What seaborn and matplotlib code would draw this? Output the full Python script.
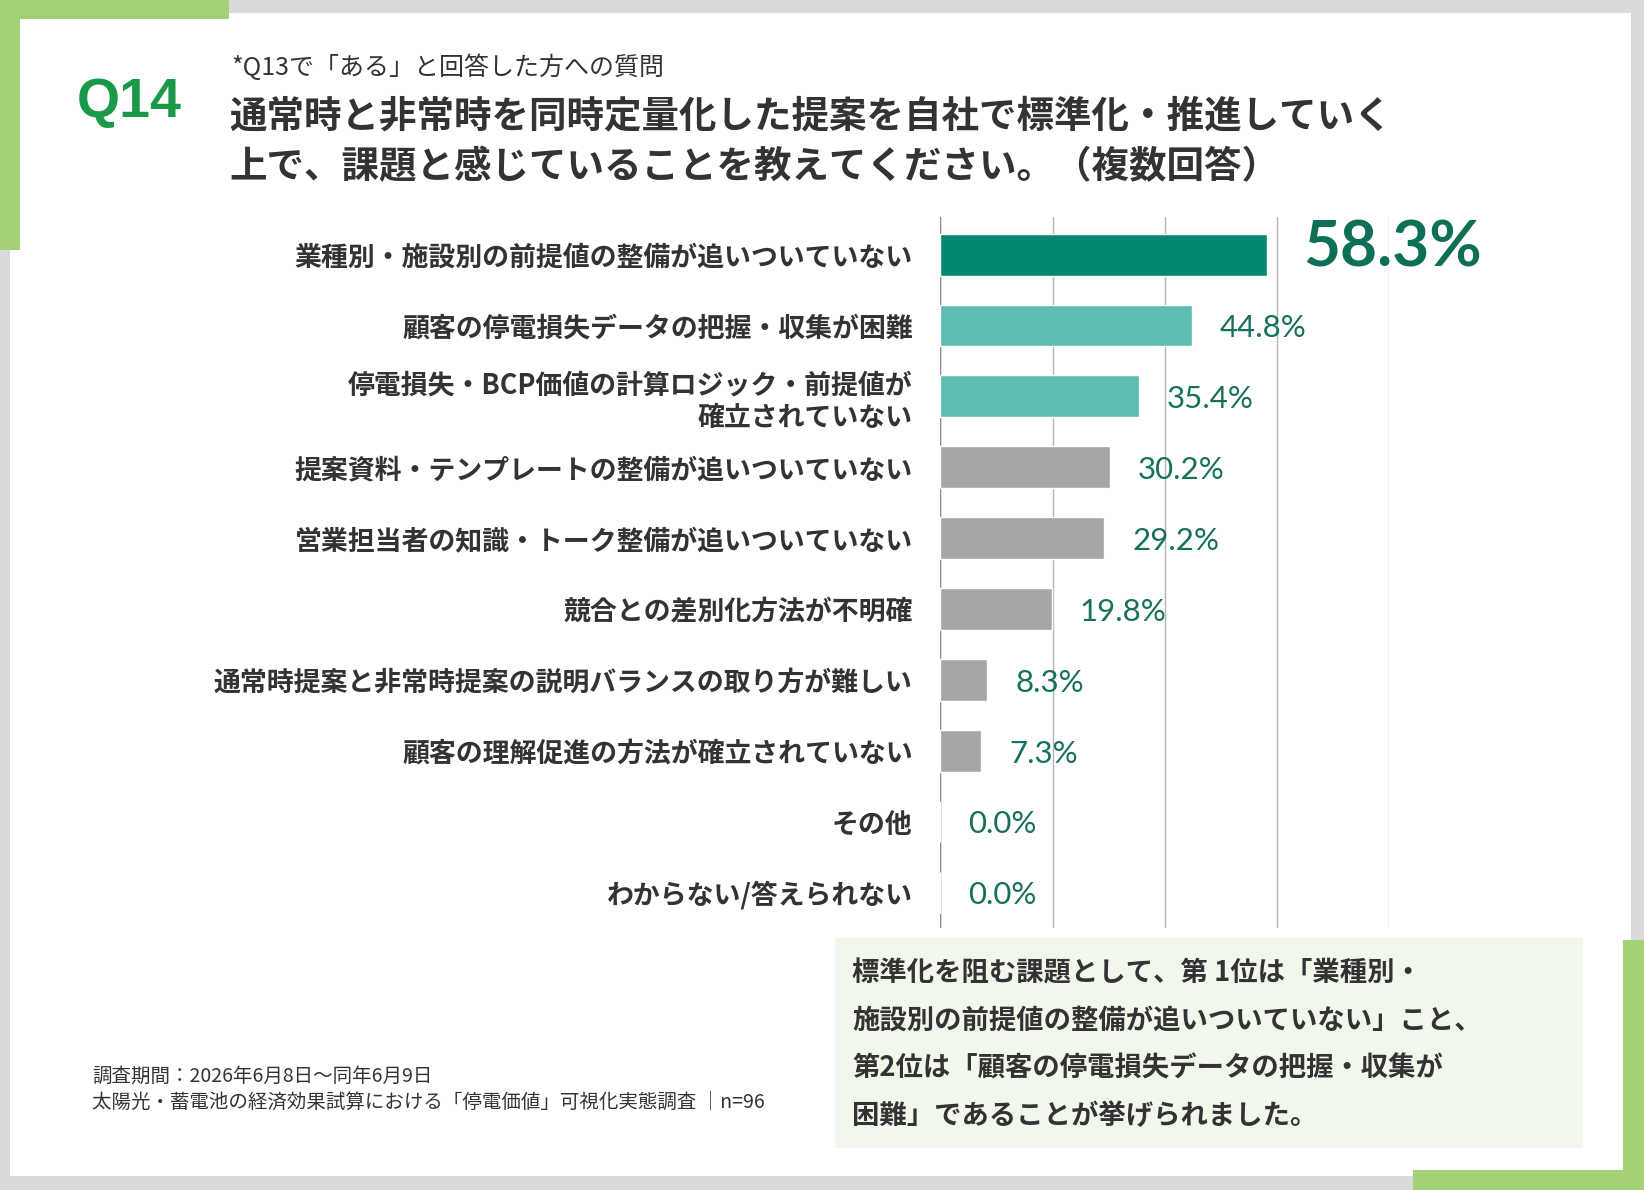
import numpy as np
import matplotlib
matplotlib.use("Agg")
import matplotlib.pyplot as plt
from matplotlib.patches import Rectangle
import seaborn as sns
import pandas as pd

# data
labels = [
    "業種別・施設別の前提値の整備が追いついていない",
    "顧客の停電損失データの把握・収集が困難",
    "停電損失・BCP価値の計算ロジック・前提値が\n確立されていない",
    "提案資料・テンプレートの整備が追いついていない",
    "営業担当者の知識・トーク整備が追いついていない",
    "競合との差別化方法が不明確",
    "通常時提案と非常時提案の説明バランスの取り方が難しい",
    "顧客の理解促進の方法が確立されていない",
    "その他",
    "わからない/答えられない",
]
values = [58.3, 44.8, 35.4, 30.2, 29.2, 19.8, 8.3, 7.3, 0.0, 0.0]
bar_colors = ["#00876E", "#5DBDB3", "#5DBDB3"] + ["#A6A6A6"] * 7

q_label = "Q14"
sub_title = "*Q13で「ある」と回答した方への質問"
title_lines = ["通常時と非常時を同時定量化した提案を自社で標準化・推進していく",
               "上で、課題と感じていることを教えてください。（複数回答）"]
footer_lines = ["調査期間：2026年6月8日～同年6月9日",
                "太陽光・蓄電池の経済効果試算における「停電価値」可視化実態調査 │n=96"]
note_lines = ["標準化を阻む課題として、第 1位は「業種別・",
              "施設別の前提値の整備が追いついていない」こと、",
              "第2位は「顧客の停電損失データの把握・収集が",
              "困難」であることが挙げられました。"]

df = pd.DataFrame({"label": labels, "value": values})

sns.set_theme(style="white")
plt.rcParams['font.family'] = ['Noto Sans CJK JP', 'DejaVu Sans']

W, H = 1568.0, 1135.0
def fx(x):
    return x / W
def fy(y):
    return 1 - y / H

fig = plt.figure(figsize=(16.44, 11.9), dpi=100)
fig.patch.set_facecolor("#D9D9D9")

# frame
green = "#A5D176"
fig.add_artist(Rectangle((fx(10), fy(1122)), fx(1556) - fx(10), fy(12) - fy(1122),
                         transform=fig.transFigure, facecolor="white", edgecolor="none", zorder=0))
fig.add_artist(Rectangle((0, fy(18)), fx(218), 1 - fy(18), transform=fig.transFigure,
                         facecolor=green, edgecolor="none", zorder=1))
fig.add_artist(Rectangle((0, fy(238)), fx(19), 1 - fy(238), transform=fig.transFigure,
                         facecolor=green, edgecolor="none", zorder=1))
fig.add_artist(Rectangle((fx(1548), 0), 1 - fx(1548), fy(897), transform=fig.transFigure,
                         facecolor=green, edgecolor="none", zorder=1))
fig.add_artist(Rectangle((fx(1348), 0), 1 - fx(1348), fy(1116), transform=fig.transFigure,
                         facecolor=green, edgecolor="none", zorder=1))

# headings
fig.text(fx(73), fy(98), q_label, fontsize=40, fontweight="bold", color="#1A9A48",
         family=["Liberation Sans", "DejaVu Sans"], va="center", ha="left")
fig.text(fx(221), fy(65), sub_title, fontsize=18, color="#333333", va="center", ha="left")
for i, line in enumerate(title_lines):
    fig.text(fx(219), fy(111 + 48 * i), line, fontsize=27, fontweight="bold",
             color="#333333", va="center", ha="left")

# chart
ax = fig.add_axes([fx(897), fy(885), fx(1325) - fx(897), fy(207) - fy(885)])
ax.set_facecolor("none")
sns.barplot(data=df, x="value", y="label", hue="label", palette=bar_colors,
            legend=False, width=0.59, ax=ax, zorder=2, saturation=1)
ax.set_xlim(0, 80)
ax.set_ylim(9.5, -0.53)
ax.set_xticks([0, 20, 40, 60, 80])
ax.set_xticklabels([])
ax.grid(axis="x", color="#B4B4B4", linewidth=1.0, zorder=0)
ax.set_axisbelow(True)
for s in ["top", "right", "bottom", "left"]:
    ax.spines[s].set_visible(False)
ax.axvline(0, color="#8C8C8C", linewidth=1.0, zorder=1)
ax.set_xlabel("")
ax.set_ylabel("")
ax.tick_params(axis="y", length=0, pad=20)
ax.tick_params(axis="x", length=0)
for t in ax.get_yticklabels():
    t.set_fontsize(19.4)
    t.set_fontweight("bold")
    t.set_color("#333333")
    t.set_ha("right")
    t.set_linespacing(1.2)

for i, v in enumerate(values):
    if i == 0:
        ax.text(v + 6.4, i - 0.1, f"{v:.1f}%", fontsize=46, fontweight="bold",
                color="#0E6F57", family=["Lato", "DejaVu Sans"], va="center", ha="left", zorder=5)
    else:
        ax.text(v + 5.0, i + 0.04, f"{v:.1f}%", fontsize=22.5,
                color="#17705A", family=["Lato", "DejaVu Sans"], va="center", ha="left", zorder=5)

# note box
fig.add_artist(Rectangle((fx(796), fy(1095)), fx(1510) - fx(796), fy(895) - fy(1095),
                         transform=fig.transFigure, facecolor="#F2F7EC", edgecolor="none", zorder=1))
for i, line in enumerate(note_lines):
    fig.text(fx(813), fy(928 + 45.5 * i), line, fontsize=19.7, fontweight="bold",
             color="#333333", va="center", ha="left", zorder=3)

# footer
for i, line in enumerate(footer_lines):
    fig.text(fx(88), fy(1027 + 24 * i), line, fontsize=14, color="#333333",
             va="center", ha="left")

fig.savefig("out.png", dpi=100, facecolor=fig.get_facecolor())
